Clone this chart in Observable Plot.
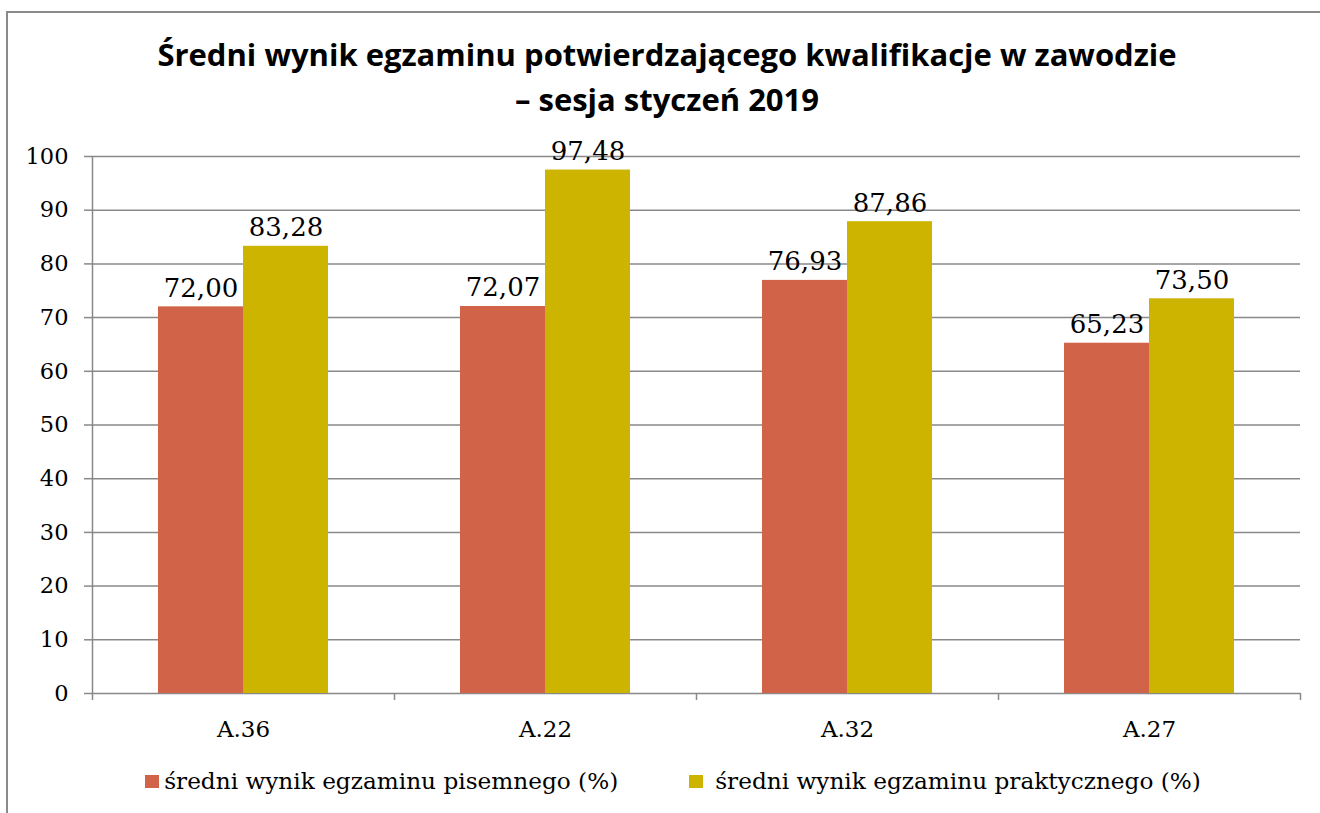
<!DOCTYPE html>
<html>
<head>
<meta charset="utf-8">
<script src="https://cdn.jsdelivr.net/npm/d3@7"></script>
<script src="https://cdn.jsdelivr.net/npm/@observablehq/plot@0.6"></script>
<style>
  body { margin: 0; background: #fff; }
  #wrap { position: relative; width: 1320px; height: 813px; overflow: hidden; background: #fff; }
  #border { position: absolute; left: 6px; top: 11px; width: 1400px; height: 900px;
            border-left: 2px solid #8a8a8a; border-top: 2px solid #8a8a8a; }
  #title { position: absolute; left: 0; top: 32px; width: 1334px; text-align: center;
           font-family: "Open Sans", Lato, sans-serif; font-weight: 700; font-size: 31px;
           line-height: 45px; color: #000; }
  #chart { position: absolute; left: 0; top: 140px; }
  #legend { position: absolute; left: 0; top: 766px; width: 1346px; display: flex;
            justify-content: center; align-items: center; font-family: "DejaVu Serif", serif;
            font-size: 23.2px; color: #000; line-height: 30px; }
  .item { display: flex; align-items: center; }
  .sw { width: 14px; height: 13px; display: inline-block; }
</style>
</head>
<body>
<div id="wrap">
  <div id="border"></div>
  <div id="title">Średni wynik egzaminu potwierdzającego kwalifikacje w zawodzie<br>– sesja styczeń 2019</div>
  <div id="chart"></div>
  <div id="legend"></div>
</div>
<script>
const categories = ["A.36", "A.22", "A.32", "A.27"];
const seriesNames = ["średni wynik egzaminu pisemnego (%)", "średni wynik egzaminu praktycznego (%)"];
const writtenScores = [72.00, 72.07, 76.93, 65.23];
const practicalScores = [83.28, 97.48, 87.86, 73.50];
const yTicks = [0, 10, 20, 30, 40, 50, 60, 70, 80, 90, 100];
const colors = ["#D16349", "#CCB400"];

const data = categories.flatMap((cat, i) => [
  {cat, series: seriesNames[0], value: writtenScores[i]},
  {cat, series: seriesNames[1], value: practicalScores[i]}
]);

const W = 1320, ML = 92, MR = 20;
const step = (W - ML - MR) / categories.length;
const grid = "#898989";
const fmt = v => v.toFixed(2).replace(".", ",");
const serif = "DejaVu Serif";

const chart = Plot.plot({
  width: W, height: 603,
  marginLeft: ML, marginRight: MR, marginTop: 16, marginBottom: 50,
  style: {background: "transparent", overflow: "visible"},
  fx: {domain: categories, padding: 0, label: null},
  x: {domain: seriesNames, paddingInner: 0, paddingOuter: 0.776, axis: null},
  y: {domain: [0, 100], label: null},
  color: {domain: seriesNames, range: colors},
  marks: [
    Plot.ruleY(yTicks, {stroke: grid, strokeWidth: 1.5}),
    Plot.axisY(yTicks, {tickSize: 8, tickPadding: 16, stroke: grid, strokeWidth: 1.5, fill: "#000",
                        fontSize: 22.5, fontFamily: serif, label: null, tickFormat: d => String(d)}),
    Plot.ruleX([categories[0]], {fx: d => d, x: null, dx: -step / 2, y1: 0, y2: 100, insetTop: 7,
                                 stroke: grid, strokeWidth: 1.5}),
    Plot.ruleX(categories.slice(1), {fx: d => d, x: null, dx: -step / 2, y1: 0, y2: 0, insetTop: 7,
                                     stroke: grid, strokeWidth: 1.5}),
    Plot.ruleX(categories.slice(-1), {fx: d => d, x: null, dx: step / 2, y1: 0, y2: 0, insetTop: 7,
                                      stroke: grid, strokeWidth: 1.5}),
    Plot.barY(data, {fx: "cat", x: "series", y: "value", fill: "series"}),
    Plot.text(data, {fx: "cat", x: "series", y: "value", text: d => fmt(d.value), dy: -10,
                     lineAnchor: "bottom", fontSize: 26, fontFamily: serif, fill: "#000"}),
    Plot.axisFx({anchor: "bottom", tickSize: 0, tickPadding: 27, fontSize: 23, fontFamily: serif,
                 fill: "#000", label: null})
  ]
});
document.getElementById("chart").appendChild(chart);

const legend = document.getElementById("legend");
seriesNames.forEach((name, i) => {
  const item = document.createElement("div");
  item.className = "item";
  item.style.marginRight = i === 0 ? "71px" : "0";
  const sw = document.createElement("span");
  sw.className = "sw";
  sw.style.background = colors[i];
  sw.style.marginRight = i === 0 ? "5px" : "12px";
  const label = document.createElement("span");
  label.textContent = name;
  item.appendChild(sw);
  item.appendChild(label);
  legend.appendChild(item);
});
</script>
</body>
</html>
